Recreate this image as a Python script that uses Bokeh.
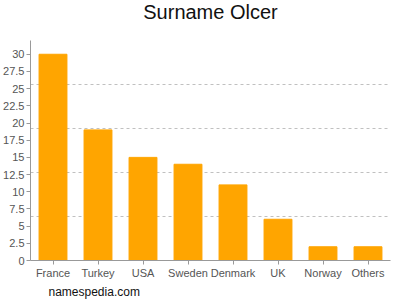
from bokeh.plotting import figure
from bokeh.models import ColumnDataSource, FactorRange, Range1d, FixedTicker, Title
from bokeh.embed import file_html
from bokeh.resources import INLINE

countries = ["France", "Turkey", "USA", "Sweden", "Denmark", "UK", "Norway", "Others"]
counts = [30, 19, 15, 14, 11, 6, 2, 2]
y_ticks = [0, 2.5, 5, 7.5, 10, 12.5, 15, 17.5, 20, 22.5, 25, 27.5, 30]
grid_lines = [6.4, 12.8, 19.2, 25.6, 32]

src = ColumnDataSource(dict(x=countries, y=counts))

p = figure(width=400, height=300, x_range=FactorRange(*countries, range_padding=0),
           y_range=Range1d(0, 32), output_backend="svg", toolbar_location=None,
           min_border_left=28, min_border_right=10, min_border_top=40, min_border_bottom=10)
p.vbar(x="x", top="y", width=0.62, source=src, color="#FFA500")

# spacer panel between the title and the frame
spacer = Title(text=" ", text_font_size="1px", standoff=13)
p.add_layout(spacer, "above")

p.title.text = "Surname Olcer"
p.title.align = "center"
p.title.vertical_align = "top"
p.title.text_font = "Liberation Sans"
p.title.text_font_size = "20px"
p.title.text_font_style = "normal"
p.title.text_color = "#111111"
p.title.offset = 0
p.title.standoff = 0

foot = Title(text="namespedia.com", align="left", text_font="Liberation Sans",
             text_font_size="12px", text_font_style="normal", text_color="#111111",
             offset=18, standoff=3)
p.add_layout(foot, "below")

p.outline_line_color = None
p.xgrid.grid_line_color = None
p.ygrid.ticker = FixedTicker(ticks=grid_lines)
p.ygrid.grid_line_color = "#c0c0c0"
p.ygrid.grid_line_dash = "3 3"

p.yaxis.ticker = FixedTicker(ticks=y_ticks)
p.yaxis.major_label_overrides = {t: ("%g" % t) for t in y_ticks}
for ax in (p.xaxis[0], p.yaxis[0]):
    ax.axis_line_color = "#999999"
    ax.major_tick_line_color = "#999999"
    ax.minor_tick_line_color = None
    ax.major_tick_in = 0
    ax.major_tick_out = 4
    ax.major_label_text_font = "Liberation Sans"
    ax.major_label_text_font_size = "11px"
    ax.major_label_text_color = "#555555"
    ax.major_label_standoff = 2

open("out.html", "w").write(file_html(p, INLINE))
